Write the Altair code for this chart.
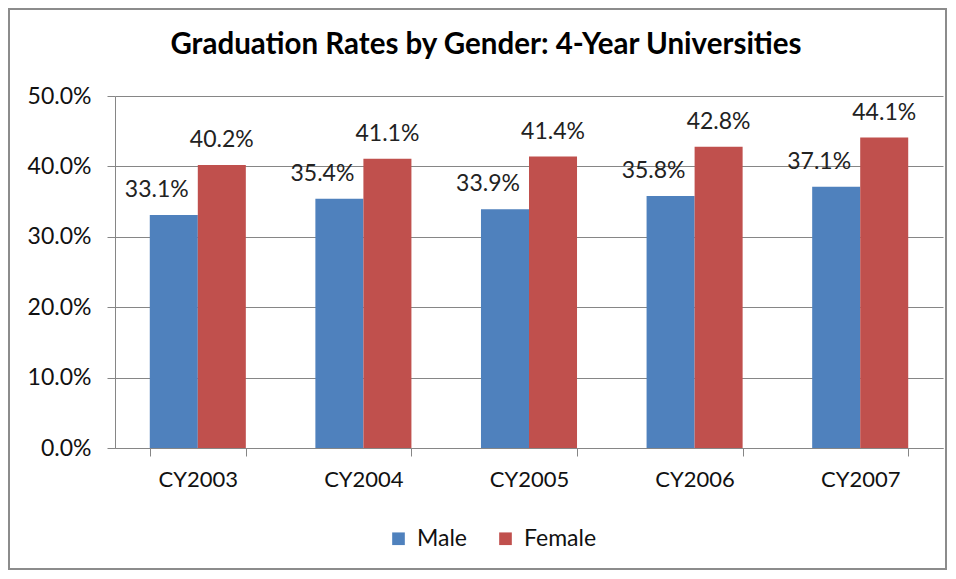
import altair as alt
import pandas as pd

title_text = "Graduation Rates by Gender: 4-Year Universities"
years = ["CY2003", "CY2004", "CY2005", "CY2006", "CY2007"]
male = [0.331, 0.354, 0.339, 0.358, 0.371]
female = [0.402, 0.411, 0.414, 0.428, 0.441]
genders = ["Male", "Female"]
colors = ["#4F81BD", "#C0504D"]

rows = []
for i, y in enumerate(years):
    rows.append({"year": y, "gender": "Male", "rate": male[i]})
    rows.append({"year": y, "gender": "Female", "rate": female[i]})
df = pd.DataFrame(rows)

FONT = "Lato"

x = alt.X("year:N", sort=years, title=None,
          scale=alt.Scale(paddingInner=0.42, paddingOuter=0.21),
          axis=alt.Axis(labelAngle=0, labelFontSize=22, labelPadding=13,
                        tickBand="extent", tickSize=8, labelFont=FONT,
                        labelColor="#111111"))
xo = alt.XOffset("gender:N", sort=genders,
                 scale=alt.Scale(paddingInner=0, paddingOuter=0))
y = alt.Y("rate:Q", title=None,
          scale=alt.Scale(domain=[0, 0.5], nice=False),
          axis=alt.Axis(format=".1%", values=[0, 0.1, 0.2, 0.3, 0.4, 0.5],
                        labelFontSize=23, labelPadding=16, tickSize=8,
                        grid=True, labelFont=FONT, labelColor="#111111"))

base = alt.Chart(df)

bars = base.mark_bar().encode(
    x=x, xOffset=xo, y=y,
    color=alt.Color("gender:N", sort=genders,
                    scale=alt.Scale(domain=genders, range=colors),
                    legend=alt.Legend(title=None, orient="none",
                                      direction="horizontal",
                                      legendX=272, legendY=431,
                                      symbolType="square", symbolSize=160,
                                      symbolStrokeWidth=0,
                                      labelFontSize=23, labelFont=FONT,
                                      labelColor="#111111",
                                      columnPadding=26, labelOffset=7)),
)

lab_m = base.transform_filter(alt.datum.gender == "Male").mark_text(
    fontSize=23, font=FONT, dx=-17, dy=-18, baseline="alphabetic",
    color="#222222").encode(
    x=x, xOffset=xo, y=y, text=alt.Text("rate:Q", format=".1%"))
lab_f = base.transform_filter(alt.datum.gender == "Female").mark_text(
    fontSize=23, font=FONT, dx=0, dy=-18, baseline="alphabetic",
    color="#222222").encode(
    x=x, xOffset=xo, y=y, text=alt.Text("rate:Q", format=".1%"))

frame = alt.Chart(pd.DataFrame({"a": [0]})).mark_rect(
    fill=None, stroke="#8C8C8C", strokeWidth=2).encode(
    x=alt.value(-106), x2=alt.value(831), y=alt.value(-87), y2=alt.value(473))

title = alt.Chart(pd.DataFrame({"t": [title_text]})).mark_text(
    fontSize=29.5, font=FONT, fontWeight="bold", color="#000000",
    align="center", baseline="alphabetic").encode(
    text="t:N", x=alt.value(371), y=alt.value(-42))

chart = alt.layer(frame, bars, lab_m, lab_f, title).properties(
    width=828, height=352,
    padding={"left": 107, "top": 88, "right": 5, "bottom": 123},
    autosize=alt.AutoSizeParams(type="none"),
).configure_view(stroke=None).configure_axis(
    domainColor="#868686", tickColor="#868686", gridColor="#868686",
    gridWidth=1, domainWidth=1, tickWidth=1,
).configure_axisX(grid=False)

chart.save("out.html", embed_options={"renderer": "svg", "actions": False})
